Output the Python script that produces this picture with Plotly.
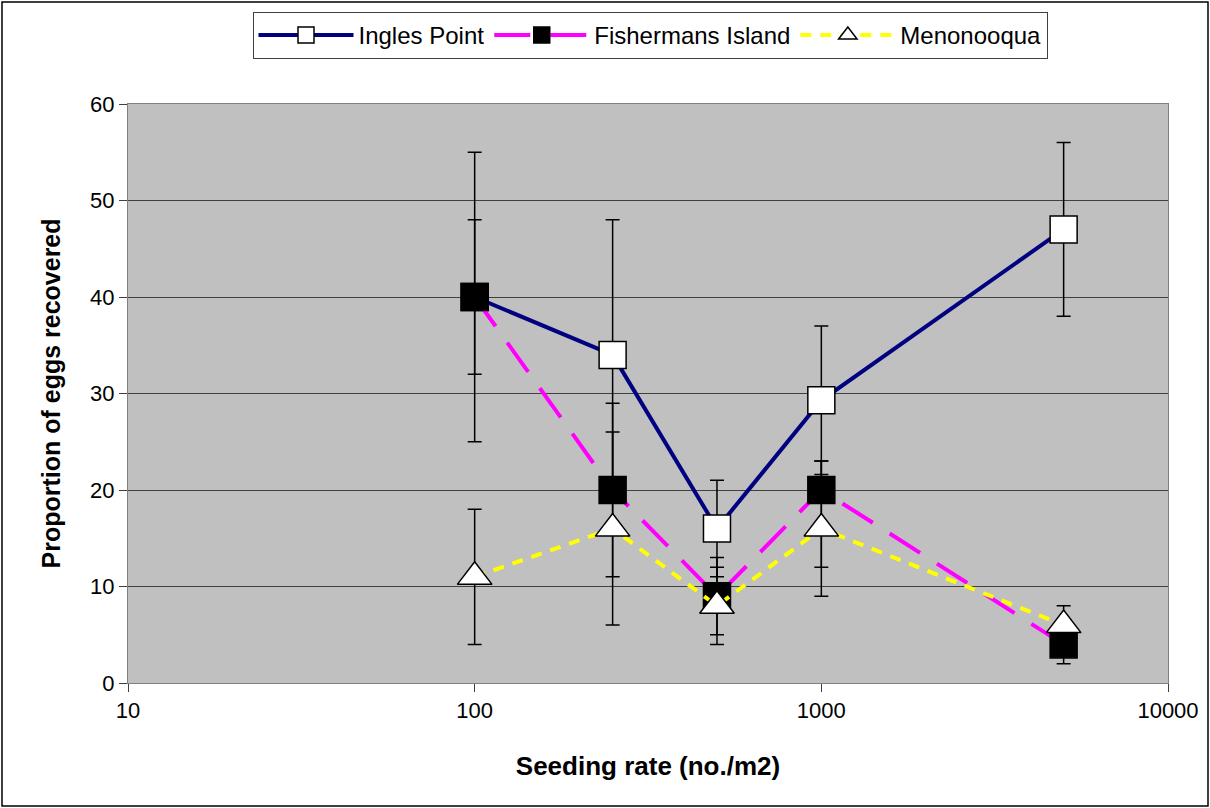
import plotly.graph_objects as go

seeding_rate = [100, 250, 500, 1000, 5000]

ingles_y = [40, 34, 16, 29.3, 47]
ingles_err = [15, 14, 5, 7.7, 9]

fishermans_y = [40, 20, 9, 20, 4]
fishermans_err_plus = [8, 9, 4, 3, 2]
fishermans_err_minus = [8, 9, 4, 8, 2]

menonooqua_y = [11, 16, 8, 16, 6]
menonooqua_err = [7, 10, 4, 7, 2]

y_ticks = [0, 10, 20, 30, 40, 50, 60]
x_ticks = [10, 100, 1000, 10000]

FONT = "Liberation Sans, Arial, sans-serif"

fig = go.Figure()

def err(arr, arrminus=None):
    d = dict(type="data", array=arr, visible=True, color="black", thickness=1.5, width=7)
    if arrminus is not None:
        d["symmetric"] = False
        d["arrayminus"] = arrminus
    return d

fig.add_trace(go.Scatter(
    x=seeding_rate, y=ingles_y, name="Ingles Point", mode="lines+markers",
    line=dict(color="#000080", width=4),
    marker=dict(symbol="square", size=27, color="white", line=dict(color="black", width=1.5)),
    error_y=err(ingles_err),
))
fig.add_trace(go.Scatter(
    x=seeding_rate, y=fishermans_y, name="Fishermans Island", mode="lines+markers",
    line=dict(color="#FF00FF", width=4, dash="36px,20px"),
    marker=dict(symbol="square", size=27, color="black", line=dict(color="black", width=1.5)),
    error_y=err(fishermans_err_plus, fishermans_err_minus),
))
fig.add_trace(go.Scatter(
    x=seeding_rate, y=menonooqua_y, name="Menonooqua", mode="lines+markers",
    line=dict(color="#FFFF00", width=4, dash="11px,9px"),
    marker=dict(symbol="triangle-up", size=30, color="white", line=dict(color="black", width=1.5)),
    error_y=err(menonooqua_err),
))

L, R, T, B = 128, 42, 104, 125
W, H = 1210, 808
pw, ph = W - L - R, H - T - B

fig.update_layout(
    width=W, height=H,
    margin=dict(l=L, r=R, t=T, b=B, autoexpand=False),
    paper_bgcolor="white",
    plot_bgcolor="#C0C0C0",
    font=dict(family=FONT, size=22, color="black"),
    showlegend=True,
    legend=dict(
        orientation="h", xref="container", yref="container",
        x=650 / W, y=1 - 12 / H, xanchor="center", yanchor="top",
        bgcolor="white", bordercolor="#404040", borderwidth=1,
        font=dict(family=FONT, size=24, color="black"),
        itemwidth=95, tracegroupgap=0,
    ),
    xaxis=dict(
        type="log", range=[1, 4], tickvals=x_ticks, ticktext=[str(v) for v in x_ticks],
        showgrid=False, zeroline=False,
        ticks="outside", ticklen=8, tickcolor="#404040", tickwidth=1,
        showline=True, linecolor="#808080", linewidth=1, mirror=True,
        tickfont=dict(family=FONT, size=22),
        title=dict(text="<b>Seeding rate (no./m2)</b>", font=dict(family=FONT, size=26), standoff=34),
    ),
    yaxis=dict(
        range=[0, 60], tickvals=y_ticks,
        showgrid=True, gridcolor="#404040", gridwidth=1, zeroline=False,
        ticks="outside", ticklen=8, tickcolor="#404040", tickwidth=1,
        showline=True, linecolor="#808080", linewidth=1, mirror=True,
        tickfont=dict(family=FONT, size=22),
        title=dict(text="<b>Proportion of eggs recovered</b>", font=dict(family=FONT, size=25), standoff=22),
    ),
    shapes=[dict(
        type="rect", xref="paper", yref="paper",
        x0=(2 - L) / pw, x1=(W - 2 - L) / pw,
        y0=-(B - 2) / ph, y1=(ph + T - 2) / ph,
        line=dict(color="black", width=1.5), fillcolor="rgba(0,0,0,0)", layer="below",
    )],
)

fig.write_html("out.html")
